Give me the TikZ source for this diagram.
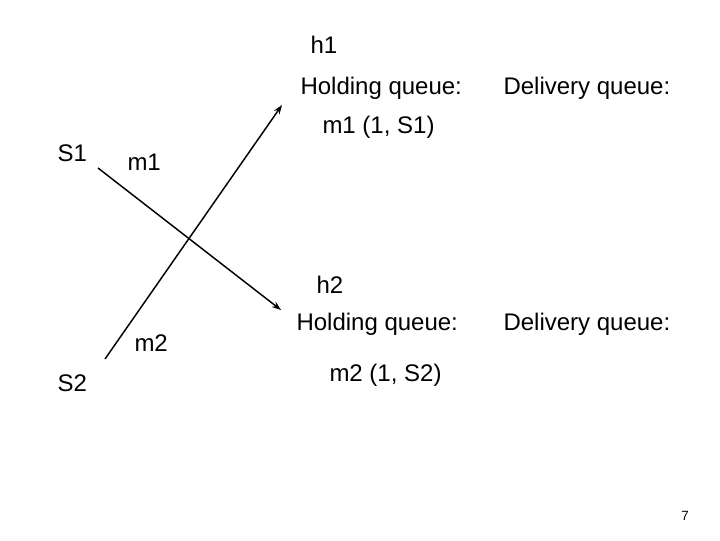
\documentclass[tikz,border=0pt]{standalone}
\usepackage{fontspec}
\setmainfont{Liberation Sans}
\usetikzlibrary{arrows.meta}
\tikzset{every picture/.style={line width=0.75pt}}
\tikzset{lbl/.style={anchor=west,inner sep=0.75pt,font=\fontsize{18}{21}\selectfont},
  msg/.style={line width=1.1pt,-{Stealth[length=7pt,width=5pt]}}}

\begin{document}
\begin{tikzpicture}[x=0.75pt,y=0.75pt,yscale=-1,xscale=1]
\useasboundingbox (0,0) rectangle (720,540);

% Coordinates for message ends
\coordinate (m1from) at (98,168);
\coordinate (m1to) at (281,310);
\coordinate (m2from) at (105,359);
\coordinate (m2to) at (282,105);

%Straight Lines
\draw [msg] (m1from) -- (m1to);
\draw [msg] (m2from) -- (m2to);

% Text Node
\node [lbl] (h1) at (309,45) {h1};
% Text Node
\node [lbl] (hold1) at (299,88) {Holding queue:};
% Text Node
\node [lbl] (deliv1) at (502,88) {Delivery queue:};
% Text Node
\node [lbl] (q1) at (321,127) {m1 (1, S1)};
% Text Node
\node [lbl] (s1) at (56,153) {S1};
% Text Node
\node [lbl] (m1) at (126,162) {m1};
% Text Node
\node [lbl] (h2) at (315,285) {h2};
% Text Node
\node [lbl] (hold2) at (295,324) {Holding queue:};
% Text Node
\node [lbl] (deliv2) at (502,324) {Delivery queue:};
% Text Node
\node [lbl] (m2) at (133,343) {m2};
% Text Node
\node [lbl] (s2) at (56,383) {S2};
% Text Node
\node [lbl] (q2) at (328,375) {m2 (1, S2)};
% Text Node
\node [anchor=center,inner sep=0.75pt,font=\fontsize{10}{12}\selectfont] (pg) at (685,516) {7};

\end{tikzpicture}
\end{document}
